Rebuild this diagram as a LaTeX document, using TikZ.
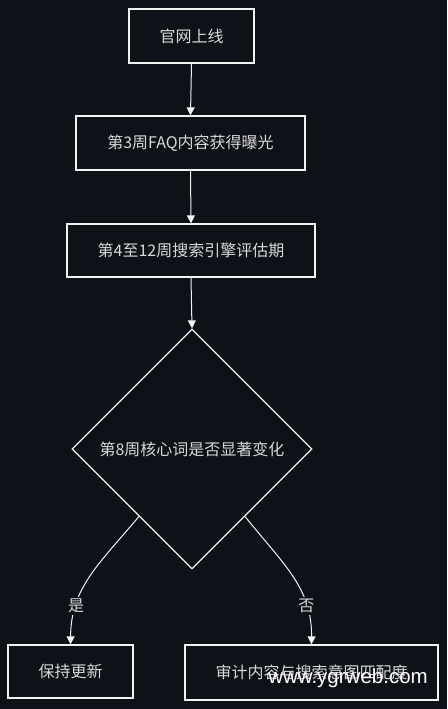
\documentclass[tikz,border=0pt]{standalone}
\usepackage{fontspec}
\setmainfont{Noto Sans CJK SC}
\newfontfamily\wmfont{Liberation Sans}
\usetikzlibrary{shapes.geometric,arrows.meta,calc}
\definecolor{bg}{HTML}{0E1117}
\definecolor{ln}{HTML}{F2F2F2}
\definecolor{tx}{HTML}{D8D8D8}
\tikzset{
  box/.style={draw=ln,line width=1.3pt,fill=bg,text=tx,font=\fontsize{16}{19}\selectfont,inner sep=0pt},
  dia/.style={draw=ln,line width=1.3pt,fill=bg,text=tx,font=\fontsize{16}{19}\selectfont,shape=diamond,aspect=1,inner sep=0pt,minimum width=240pt,minimum height=240pt},
  arr/.style={draw=ln,line width=1pt,-{Triangle[length=8pt,width=8pt]}},
  lab/.style={text=tx,fill=bg,font=\fontsize{16}{19}\selectfont,inner sep=2pt}
}
\begin{document}
\begin{tikzpicture}[x=1pt,y=-1pt]
\fill[bg] (0,0) rectangle (447,709);
\useasboundingbox (0,0) rectangle (447,709);
\node[box,minimum width=125pt,minimum height=54pt] (n1) at (191.5,36) {官网上线};
\node[box,minimum width=229pt,minimum height=54pt] (n2) at (190.5,143) {第3周FAQ内容获得曝光};
\node[box,minimum width=248pt,minimum height=53pt] (n3) at (191,250.5) {第4至12周搜索引擎评估期};
\node[dia] (d) at (192,449) {第8周核心词是否显著变化};
\node[box,minimum width=125pt,minimum height=53pt] (y) at (70.5,671.5) {保持更新};
\node[box,minimum width=253pt,minimum height=55pt] (n) at (311.5,672.5) {审计内容与搜索意图匹配度};
\draw[arr] (n1.south) -- (n2.north);
\draw[arr] (n2.south) -- (n3.north);
\draw[arr] (n3.south) -- (d.north);
\coordinate (ds1) at ($(d.west)!0.56!(d.south)$);
\coordinate (ds2) at ($(d.east)!0.56!(d.south)$);
\draw[arr] (ds1) .. controls (98,565) and (71,588) .. node[lab,pos=0.74] {是} (y.north);
\draw[arr] (ds2) .. controls (284,565) and (312,588) .. node[lab,pos=0.74] {否} (n.north);
\node[text=white,font=\wmfont\fontsize{20.5}{22}\selectfont,inner sep=0pt] (wm) at (348,678) {www.ygrweb.com};
\end{tikzpicture}
\end{document}
